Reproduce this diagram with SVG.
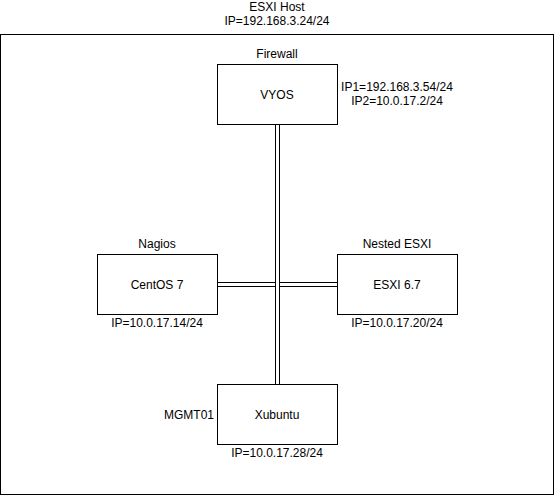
<svg xmlns="http://www.w3.org/2000/svg" width="554" height="495" viewBox="0 0 554 495">
<style>
text{font-family:"Liberation Sans",Arial,sans-serif;font-size:12px;fill:#000;text-anchor:middle}
.box{fill:#fff;stroke:#000;stroke-width:1}
.lo{fill:none;stroke:#000;stroke-width:5}
.li{fill:none;stroke:#fff;stroke-width:3}
</style>
<rect width="554" height="495" fill="#fff"/>
<g id="host">
<rect x="0.5" y="34.5" width="553" height="460" fill="none" stroke="#000"/>
<text x="277" y="11">ESXI Host</text>
<text x="277" y="25">IP=192.168.3.24/24</text>
</g>
<g id="connectors">
<path class="lo" d="M217.5 284.5H337.5"/>
<path class="li" d="M217 284.5H338"/>
<path class="lo" d="M277.5 124.5V384.5"/>
<path class="li" d="M277.5 124V385"/>
</g>
<g id="vyos">
<rect class="box" x="217.5" y="64.5" width="120" height="60"/>
<text x="277" y="58">Firewall</text>
<text x="277" y="98.5">VYOS</text>
<text x="397" y="91">IP1=192.168.3.54/24</text>
<text x="397" y="105">IP2=10.0.17.2/24</text>
</g>
<g id="centos">
<rect class="box" x="97.5" y="254.5" width="120" height="60"/>
<text x="157" y="248">Nagios</text>
<text x="157" y="288.5">CentOS 7</text>
<text x="157" y="327">IP=10.0.17.14/24</text>
</g>
<g id="esxi">
<rect class="box" x="337.5" y="254.5" width="120" height="60"/>
<text x="397" y="248">Nested ESXI</text>
<text x="397" y="288.5">ESXI 6.7</text>
<text x="397" y="327">IP=10.0.17.20/24</text>
</g>
<g id="xubuntu">
<rect class="box" x="217.5" y="384.5" width="120" height="60"/>
<text x="214" y="418.5" style="text-anchor:end">MGMT01</text>
<text x="277" y="418.5">Xubuntu</text>
<text x="277" y="457">IP=10.0.17.28/24</text>
</g>
</svg>
